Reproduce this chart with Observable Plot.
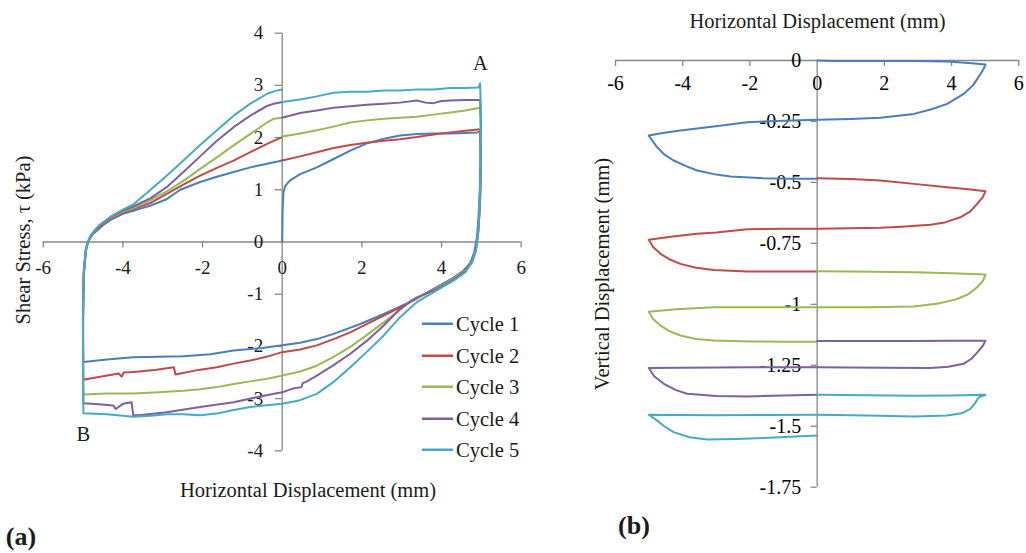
<!DOCTYPE html>
<html><head><meta charset="utf-8">
<script src="https://cdn.jsdelivr.net/npm/d3@7"></script>
<script src="https://cdn.jsdelivr.net/npm/@observablehq/plot@0.6"></script>
<style>
body{margin:0;background:#fff;}
#root{position:relative;width:1026px;height:553px;overflow:hidden;font-family:"Liberation Serif","Times New Roman",serif;color:#1a1a1a;background:#fff;}
.abs{position:absolute;white-space:nowrap;line-height:1;}
#root svg{position:absolute;overflow:visible;}
</style></head><body><div id="root"></div>
<script>
// ---------- categories & colours ----------
const cycles = ["Cycle 1", "Cycle 2", "Cycle 3", "Cycle 4", "Cycle 5"];
const cycleColors = ["#4a7ebb", "#be4b48", "#98b954", "#7d60a0", "#46aac5"];

// ---------- tick labels ----------
const xTicks = [-6, -4, -2, 0, 2, 4, 6];
const stressTicks = [-4, -3, -2, -1, 0, 1, 2, 3, 4];
const vertTicks = [0, -0.25, -0.5, -0.75, -1, -1.25, -1.5, -1.75];

// ---------- (a) shear stress vs horizontal displacement: [mm, kPa] ----------
const shear1 = [[0,0],[0.01,0.6],[0.03,0.95],[0.08,1.08],[0.2,1.18],[0.45,1.3],[0.87,1.43],[1.29,1.59],[1.71,1.75],[2.13,1.89],[2.55,1.98],[2.96,2.04],[3.38,2.07],[3.8,2.08],[4.22,2.08],[4.6,2.09],[4.89,2.1],[4.97,2.12],
 [4.98,1.6],[4.96,1.0],[4.93,0.5],[4.89,0.1],[4.82,-0.2],[4.72,-0.4],[4.55,-0.55],[4.3,-0.68],[3.89,-0.86],[3.38,-1.08],[2.96,-1.24],[2.55,-1.38],[1.96,-1.57],[1.29,-1.76],[0.87,-1.86],[0.45,-1.93],[0,-1.98],[-0.5,-2.03],[-1.22,-2.08],[-1.8,-2.15],[-2.48,-2.19],[-3.1,-2.2],[-3.74,-2.21],[-4.4,-2.25],[-4.99,-2.3],
 [-5.0,-1.8],[-5.0,-1.0],[-4.97,-0.5],[-4.92,-0.15],[-4.87,0],[-4.8,0.1],[-4.74,0.16],[-4.5,0.32],[-4.32,0.42],[-4.0,0.54],[-3.74,0.6],[-3.3,0.7],[-2.9,0.82],[-2.56,1.0],[-2.06,1.15],[-1.64,1.25],[-1.22,1.34],[-0.8,1.43],[-0.38,1.5],[0,1.56]];
const shear2 = [[0,1.56],[0.45,1.64],[0.87,1.72],[1.29,1.8],[1.71,1.86],[2.13,1.9],[2.55,1.94],[2.96,1.97],[3.38,2.01],[3.8,2.06],[4.22,2.1],[4.6,2.13],[4.97,2.16],
 [4.99,1.6],[4.98,1.0],[4.95,0.5],[4.91,0.1],[4.85,-0.2],[4.75,-0.4],[4.58,-0.55],[4.3,-0.7],[3.89,-0.87],[3.38,-1.08],[2.96,-1.25],[2.55,-1.41],[2.13,-1.57],[1.71,-1.73],[1.29,-1.86],[0.87,-1.98],[0.45,-2.06],[0,-2.11],[-0.4,-2.2],[-0.8,-2.27],[-1.22,-2.33],[-1.64,-2.4],[-2.1,-2.45],[-2.68,-2.54],[-2.72,-2.4],[-3.2,-2.45],[-3.74,-2.49],[-3.98,-2.5],[-4.03,-2.58],[-4.1,-2.52],[-4.5,-2.57],[-4.99,-2.64],
 [-5.0,-2.2],[-5.0,-1.2],[-4.98,-0.5],[-4.93,-0.15],[-4.88,0],[-4.8,0.12],[-4.6,0.28],[-4.32,0.44],[-4.0,0.56],[-3.74,0.63],[-3.3,0.75],[-2.9,0.92],[-2.48,1.1],[-2.06,1.27],[-1.64,1.42],[-1.22,1.56],[-0.8,1.72],[-0.38,1.88],[0,2.01]];
const shear3 = [[0,2.02],[0.45,2.08],[0.87,2.14],[1.29,2.21],[1.71,2.29],[2.13,2.33],[2.55,2.36],[2.96,2.38],[3.38,2.4],[3.8,2.44],[4.22,2.48],[4.6,2.52],[4.97,2.57],
 [4.99,2.0],[4.98,1.2],[4.95,0.6],[4.92,0.15],[4.86,-0.15],[4.76,-0.38],[4.6,-0.55],[4.3,-0.7],[3.89,-0.88],[3.6,-1.0],[3.22,-1.12],[2.96,-1.3],[2.55,-1.54],[2.13,-1.78],[1.71,-2.01],[1.29,-2.2],[0.87,-2.37],[0.45,-2.48],[0,-2.56],[-0.38,-2.62],[-0.8,-2.67],[-1.22,-2.72],[-1.64,-2.78],[-2.06,-2.82],[-2.48,-2.85],[-3.1,-2.88],[-3.74,-2.9],[-4.4,-2.9],[-4.99,-2.92],
 [-5.0,-2.4],[-5.0,-1.4],[-4.98,-0.6],[-4.93,-0.15],[-4.88,0],[-4.8,0.12],[-4.6,0.3],[-4.32,0.46],[-4.0,0.58],[-3.74,0.65],[-3.3,0.8],[-2.9,0.97],[-2.48,1.17],[-2.06,1.4],[-1.64,1.62],[-1.22,1.85],[-0.8,2.07],[-0.4,2.28],[-0.21,2.36],[0,2.38]];
const shear4 = [[0,2.38],[0.45,2.47],[0.87,2.52],[1.29,2.57],[1.71,2.6],[2.13,2.63],[2.55,2.65],[2.96,2.67],[3.38,2.71],[3.6,2.67],[3.8,2.66],[4.0,2.7],[4.22,2.71],[4.6,2.72],[4.97,2.72],
 [4.99,2.2],[4.98,1.4],[4.96,0.7],[4.92,0.2],[4.86,-0.15],[4.77,-0.38],[4.6,-0.56],[4.3,-0.72],[3.89,-0.9],[3.38,-1.06],[2.96,-1.28],[2.55,-1.6],[2.13,-1.89],[1.71,-2.14],[1.29,-2.36],[0.87,-2.56],[0.6,-2.68],[0.52,-2.7],[0.48,-2.78],[0.3,-2.8],[0,-2.88],[-0.5,-2.95],[-1.22,-3.07],[-2.06,-3.16],[-2.9,-3.26],[-3.6,-3.32],[-3.74,-3.32],[-3.78,-3.07],[-4.0,-3.1],[-4.18,-3.2],[-4.24,-3.13],[-4.6,-3.11],[-4.99,-3.09],
 [-5.0,-2.6],[-5.0,-1.5],[-4.98,-0.6],[-4.93,-0.15],[-4.88,0],[-4.8,0.13],[-4.6,0.3],[-4.32,0.47],[-4.0,0.6],[-3.74,0.68],[-3.3,0.84],[-2.9,1.05],[-2.48,1.34],[-2.06,1.64],[-1.64,1.94],[-1.22,2.2],[-0.8,2.42],[-0.4,2.6],[-0.21,2.65],[0,2.68]];
const shear5 = [[0,2.68],[0.45,2.73],[0.87,2.79],[1.29,2.86],[1.71,2.88],[2.13,2.88],[2.55,2.9],[2.96,2.9],[3.38,2.92],[3.8,2.92],[4.22,2.95],[4.6,2.95],[4.93,2.96],[4.97,3.04],
 [4.99,2.4],[4.98,1.5],[4.96,0.8],[4.93,0.25],[4.87,-0.12],[4.78,-0.36],[4.6,-0.58],[4.3,-0.74],[3.89,-0.92],[3.38,-1.15],[2.96,-1.44],[2.55,-1.79],[2.13,-2.1],[1.71,-2.4],[1.29,-2.68],[0.87,-2.91],[0.45,-3.03],[0,-3.1],[-0.8,-3.16],[-1.22,-3.22],[-1.6,-3.28],[-2.06,-3.32],[-2.5,-3.3],[-2.9,-3.3],[-3.3,-3.33],[-3.74,-3.35],[-4.4,-3.3],[-4.99,-3.28],
 [-5.0,-2.8],[-5.0,-1.6],[-4.98,-0.6],[-4.93,-0.15],[-4.88,0],[-4.8,0.14],[-4.6,0.32],[-4.32,0.48],[-4.0,0.62],[-3.74,0.72],[-3.32,0.99],[-2.9,1.27],[-2.48,1.56],[-2.06,1.86],[-1.64,2.14],[-1.22,2.42],[-0.8,2.65],[-0.38,2.84],[-0.15,2.9],[0,2.92]];

// ---------- (b) vertical vs horizontal displacement: [mm, mm] ----------
const vert1 = [[0,0],[0.5,-0.002],[1.5,-0.002],[2.9,-0.002],[3.87,-0.004],[4.5,-0.01],[5.01,-0.016],[4.95,-0.035],[4.86,-0.055],[4.65,-0.1],[4.36,-0.137],[3.87,-0.178],[3.4,-0.2],[2.88,-0.219],[1.88,-0.235],[1,-0.24],[0,-0.243],[-1,-0.247],[-2.08,-0.253],[-3.08,-0.271],[-4.07,-0.287],[-4.6,-0.297],[-5.01,-0.308],[-4.9,-0.33],[-4.76,-0.356],[-4.55,-0.385],[-4.27,-0.41],[-3.9,-0.433],[-3.57,-0.451],[-3.0,-0.468],[-2.58,-0.476],[-1.59,-0.483],[-0.8,-0.485],[0,-0.485]];
const vert2 = [[0,-0.483],[1,-0.486],[1.88,-0.492],[2.88,-0.506],[3.87,-0.52],[4.5,-0.528],[5.01,-0.536],[4.93,-0.56],[4.76,-0.588],[4.55,-0.62],[4.26,-0.643],[3.8,-0.664],[3.37,-0.674],[2.5,-0.682],[1.88,-0.686],[1,-0.688],[0,-0.69],[-1,-0.69],[-2.08,-0.692],[-3.0,-0.705],[-3.57,-0.711],[-4.3,-0.722],[-5.01,-0.735],[-4.88,-0.765],[-4.66,-0.793],[-4.4,-0.815],[-4.07,-0.834],[-3.6,-0.85],[-3.08,-0.859],[-2.08,-0.865],[-1,-0.865],[0,-0.865]];
const vert3 = [[0,-0.864],[1,-0.865],[2.88,-0.868],[4,-0.873],[5.01,-0.878],[4.93,-0.905],[4.76,-0.93],[4.5,-0.958],[4.17,-0.978],[3.6,-0.997],[2.88,-1.009],[1.5,-1.012],[0,-1.012],[-1.5,-1.012],[-3.08,-1.012],[-4.2,-1.02],[-5.01,-1.03],[-4.88,-1.06],[-4.66,-1.087],[-4.4,-1.11],[-4.07,-1.128],[-3.6,-1.142],[-3.08,-1.148],[-2,-1.152],[-1,-1.153],[0,-1.153]];
const vert4 = [[0,-1.15],[1.5,-1.15],[2.88,-1.15],[4,-1.149],[5.01,-1.149],[4.93,-1.17],[4.81,-1.19],[4.6,-1.222],[4.36,-1.244],[3.9,-1.256],[3.37,-1.261],[2,-1.26],[0,-1.258],[-2,-1.258],[-4,-1.26],[-5.01,-1.261],[-4.85,-1.295],[-4.56,-1.326],[-4.2,-1.352],[-3.87,-1.367],[-3.0,-1.376],[-2.08,-1.378],[-1,-1.374],[0,-1.371]];
const vert5 = [[0,-1.371],[1.5,-1.373],[2.88,-1.375],[4,-1.374],[5.01,-1.371],[4.81,-1.381],[4.7,-1.405],[4.56,-1.429],[4.3,-1.447],[3.87,-1.456],[2.88,-1.46],[1.5,-1.456],[0,-1.453],[-1.5,-1.454],[-3.08,-1.455],[-4.2,-1.454],[-5.01,-1.453],[-4.9,-1.463],[-4.76,-1.477],[-4.55,-1.5],[-4.27,-1.524],[-3.8,-1.545],[-3.27,-1.554],[-2.4,-1.552],[-1.59,-1.548],[-0.8,-1.543],[0,-1.538]];

// ---------- build tables ----------
const shearSeries = [shear1, shear2, shear3, shear4, shear5];
const vertSeries = [vert1, vert2, vert3, vert4, vert5];
const toRows = series => cycles.flatMap((c, i) => series[i].map(([x, y]) => ({cycle: c, x, y})));
const shearRows = toRows(shearSeries);
const vertRows = toRows(vertSeries);

const axisGray = "#878787";
const textCol = "#1a1a1a";
const fam = '"Liberation Serif","Times New Roman",serif';
const root = document.getElementById("root");

// ---------- panel (a) ----------
const aW = 540, aH = 510;
const aM = {l: 42.7, r: 19.3, t: 32.7, b: 59.7};
const aTickX = 6 * 8 / (aH - aM.t - aM.b);      // 6px in data units
const aTickY = 7 * 12 / (aW - aM.l - aM.r);     // 7px in data units
const plotA = Plot.plot({
  width: aW, height: aH,
  marginLeft: aM.l, marginRight: aM.r, marginTop: aM.t, marginBottom: aM.b,
  x: {domain: [-6, 6], axis: null},
  y: {domain: [-4, 4], axis: null},
  color: {domain: cycles, range: cycleColors},
  style: {fontFamily: fam, background: "transparent", overflow: "visible"},
  marks: [
    Plot.ruleY([0], {x1: -6, x2: 6, stroke: axisGray, strokeWidth: 1.3}),
    Plot.ruleX([0], {y1: -4, y2: 4, stroke: axisGray, strokeWidth: 1.3}),
    Plot.ruleX(xTicks.filter(d => d !== 0), {x: d => d, y1: 0, y2: -aTickX, stroke: axisGray, strokeWidth: 1.3}),
    Plot.ruleY(stressTicks.filter(d => d !== 0), {y: d => d, x1: 0, x2: -aTickY, stroke: axisGray, strokeWidth: 1.3}),
    Plot.text(xTicks, {x: d => d, y: 0, dy: 26, text: d => String(d), fontSize: 19, fill: textCol}),
    Plot.text(stressTicks, {x: 0, y: d => d, dx: -19, textAnchor: "end", text: d => String(d), fontSize: 19, fill: textCol}),
    Plot.line(shearRows, {x: "x", y: "y", z: "cycle", stroke: "cycle", strokeWidth: 2})
  ]
});
plotA.style.left = "0px"; plotA.style.top = "0px";
root.appendChild(plotA);

// ---------- panel (b) ----------
const bW = 446, bH = 553;
const bM = {l: 35, r: 7.7, t: 60, b: 66.3};
const bTickX = 6 * 1.75 / (bH - bM.t - bM.b);
const bTickY = 6 * 12 / (bW - bM.l - bM.r);
const plotB = Plot.plot({
  width: bW, height: bH,
  marginLeft: bM.l, marginRight: bM.r, marginTop: bM.t, marginBottom: bM.b,
  x: {domain: [-6, 6], axis: null},
  y: {domain: [-1.75, 0], axis: null},
  color: {domain: cycles, range: cycleColors},
  style: {fontFamily: fam, background: "transparent", overflow: "visible"},
  marks: [
    Plot.ruleY([0], {x1: -6, x2: 6, stroke: axisGray, strokeWidth: 1.3}),
    Plot.ruleX([0], {y1: -1.75, y2: 0, stroke: axisGray, strokeWidth: 1.3}),
    Plot.ruleX(xTicks.filter(d => d !== 0), {x: d => d, y1: 0, y2: -bTickX, stroke: axisGray, strokeWidth: 1.3}),
    Plot.ruleY(vertTicks.filter(d => d !== 0), {y: d => d, x1: 0, x2: -bTickY, stroke: axisGray, strokeWidth: 1.3}),
    Plot.text(xTicks, {x: d => d, y: 0, dy: 23, text: d => String(d), fontSize: 20, fill: "#000"}),
    Plot.text(vertTicks, {x: 0, y: d => d, dx: -16, textAnchor: "end", text: d => String(d), fontSize: 20, fill: "#000"}),
    Plot.line(vertRows, {x: "x", y: "y", z: "cycle", stroke: "cycle", strokeWidth: 2})
  ]
});
plotB.style.left = "580px"; plotB.style.top = "0px";
root.appendChild(plotB);

// ---------- titles, labels, legend ----------
function label(txt, cx, cy, size, opts = {}) {
  const d = document.createElement("div");
  d.className = "abs";
  d.textContent = txt;
  d.style.left = cx + "px";
  d.style.top = cy + "px";
  d.style.fontSize = size + "px";
  d.style.fontWeight = opts.bold ? "bold" : "normal";
  d.style.transform = "translate(-50%,-50%)" + (opts.rotate ? " rotate(-90deg)" : "");
  root.appendChild(d);
}
label("Shear Stress, τ (kPa)", 23, 240, 20.5, {rotate: true});
label("Horizontal Displacement (mm)", 308, 490, 20.5);
label("A", 480.5, 63, 20.5);
label("B", 83.3, 434, 20.5);
label("(a)", 21, 537, 26, {bold: true});
label("Horizontal Displacement (mm)", 817.5, 21, 20.5);
label("Vertical Displacement (mm)", 602, 274, 20.5, {rotate: true});
label("(b)", 634, 526, 26, {bold: true});

cycles.forEach((c, i) => {
  const y = 324 + i * 31.5;
  const row = document.createElement("div");
  row.className = "abs";
  row.style.left = "422px";
  row.style.top = y + "px";
  row.style.transform = "translateY(-50%)";
  row.style.display = "flex";
  row.style.alignItems = "center";
  row.style.fontSize = "20.5px";
  row.innerHTML = `<svg width="31" height="6" style="position:static;margin-right:3px"><line x1="0" x2="31" y1="3" y2="3" stroke="${cycleColors[i]}" stroke-width="2.5"/></svg><span>${c}</span>`;
  root.appendChild(row);
});
</script>
</body></html>
